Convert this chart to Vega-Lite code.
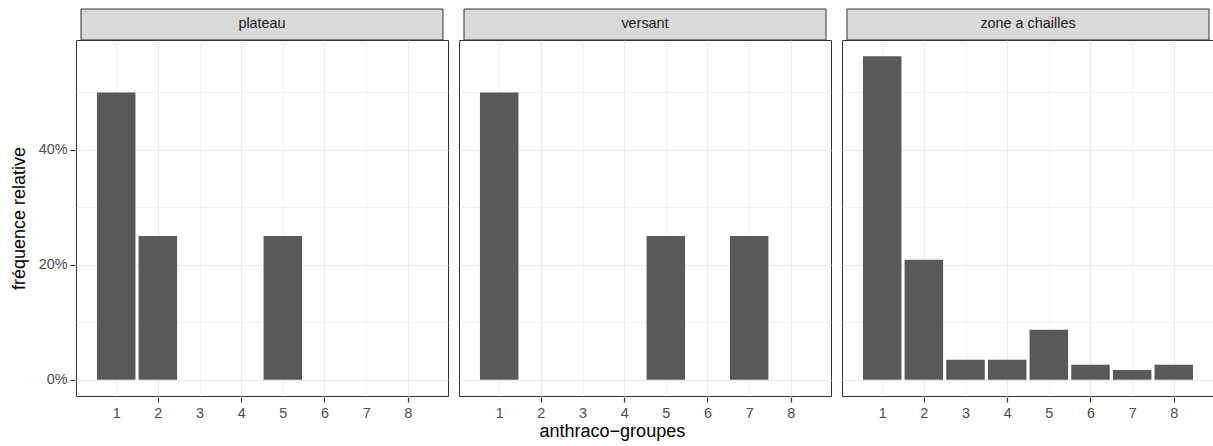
{
  "$schema": "https://vega.github.io/schema/vega-lite/v6.json",
  "background": "white",
  "padding": {"left": 10, "top": 8, "right": 1, "bottom": 5},
  "data": {"values": [
    {"zone": "plateau", "groupe": 1, "freq": 0.5},
    {"zone": "plateau", "groupe": 2, "freq": 0.25},
    {"zone": "plateau", "groupe": 5, "freq": 0.25},
    {"zone": "versant", "groupe": 1, "freq": 0.5},
    {"zone": "versant", "groupe": 5, "freq": 0.25},
    {"zone": "versant", "groupe": 7, "freq": 0.25},
    {"zone": "zone a chailles", "groupe": 1, "freq": 0.563},
    {"zone": "zone a chailles", "groupe": 2, "freq": 0.209},
    {"zone": "zone a chailles", "groupe": 3, "freq": 0.035},
    {"zone": "zone a chailles", "groupe": 4, "freq": 0.035},
    {"zone": "zone a chailles", "groupe": 5, "freq": 0.087},
    {"zone": "zone a chailles", "groupe": 6, "freq": 0.026},
    {"zone": "zone a chailles", "groupe": 7, "freq": 0.017},
    {"zone": "zone a chailles", "groupe": 8, "freq": 0.026}
  ]},
  "title": {"text": "anthraco−groupes", "orient": "bottom", "anchor": "middle", "font": "Liberation Sans", "fontSize": 18, "fontWeight": "normal", "color": "#000000", "offset": 3},
  "facet": {"column": {"field": "zone", "type": "nominal", "sort": ["plateau", "versant", "zone a chailles"], "header": {"labels": false, "title": null}}},
  "spacing": 9,
  "spec": {
    "width": 372,
    "height": 356,
    "layer": [
      {
        "mark": {"type": "bar", "width": 38.5, "color": "#595959"},
        "encoding": {
          "x": {"field": "groupe", "type": "quantitative",
            "scale": {"domain": [0.155, 8.845], "nice": false, "zero": false},
            "axis": {"values": [1, 2, 3, 4, 5, 6, 7, 8], "format": "d", "title": null, "labelPadding": 4.5,
              "gridWidth": {"condition": {"test": "datum.value % 2 == 1", "value": 0.6}, "value": 1.2},
              "tickOpacity": {"condition": {"test": "datum.value % 2 == 1", "value": 0}, "value": 1}}},
          "y": {"field": "freq", "type": "quantitative",
            "scale": {"domain": [-0.0282, 0.5912], "nice": false, "zero": false},
            "axis": {"values": [0, 0.1, 0.2, 0.3, 0.4, 0.5], "title": "fréquence relative",
              "labelExpr": "round(datum.value*10) % 2 == 1 ? '' : format(datum.value, '.0%')",
              "gridWidth": {"condition": {"test": "round(datum.value*10) % 2 == 1", "value": 0.6}, "value": 1.2},
              "tickOpacity": {"condition": {"test": "round(datum.value*10) % 2 == 1", "value": 0}, "value": 1}}},
          "y2": {"datum": 0}
        }
      },
      {
        "transform": [{"aggregate": [{"op": "count", "as": "n"}], "groupby": ["zone"]}],
        "mark": {"type": "rect", "clip": false, "fill": "#D9D9D9", "stroke": "#333333", "strokeWidth": 1},
        "encoding": {
          "x": {"datum": 0.155, "type": "quantitative"},
          "x2": {"datum": 8.845},
          "y": {"datum": 0.5912, "type": "quantitative"},
          "y2": {"datum": 0.6451}
        }
      },
      {
        "transform": [{"aggregate": [{"op": "count", "as": "n"}], "groupby": ["zone"]}],
        "mark": {"type": "text", "clip": false, "font": "Liberation Sans", "fontSize": 14.4, "color": "#1A1A1A", "baseline": "middle", "align": "center"},
        "encoding": {
          "x": {"datum": 4.5, "type": "quantitative"},
          "y": {"datum": 0.6182, "type": "quantitative"},
          "text": {"field": "zone", "type": "nominal"}
        }
      }
    ]
  },
  "config": {
    "view": {"stroke": "#333333", "strokeWidth": 1},
    "axis": {
      "labelFont": "Liberation Sans", "labelFontSize": 14.4, "labelColor": "#4D4D4D",
      "titleFont": "Liberation Sans", "titleFontSize": 18, "titleColor": "#000000", "titleFontWeight": "normal",
      "tickColor": "#333333", "tickSize": 5, "tickWidth": 1.2, "domain": false,
      "gridColor": "#EBEBEB", "labelPadding": 3, "titlePadding": 10
    }
  }
}
